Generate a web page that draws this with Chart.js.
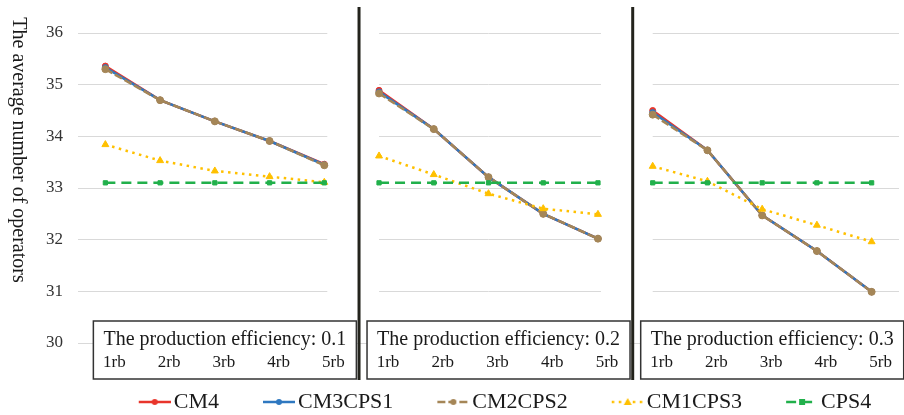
<!DOCTYPE html>
<html lang="en">
<head>
<meta charset="UTF-8">
<title>The average number of operators</title>
<script src="https://cdn.jsdelivr.net/npm/chart.js@4.4.1/dist/chart.umd.min.js"></script>
<style>
  html, body { margin: 0; padding: 0; background: #fff; }
</style>
</head>
<body>
<canvas id="chart" width="904" height="415"></canvas>
<script>
// values, 3 efficiency groups x 5 categories
const groups = ["0.1", "0.2", "0.3"];
const rbLabels = ["1rb", "2rb", "3rb", "4rb", "5rb"];
const cm4     = [35.36, 34.70, 34.29, 33.91, 33.46,  34.89, 34.14, 33.21, 32.50, 32.02,  34.50, 33.73, 32.47, 31.78, 30.99];
const cm3cps1 = [35.33, 34.70, 34.29, 33.91, 33.45,  34.86, 34.14, 33.21, 32.50, 32.02,  34.46, 33.73, 32.47, 31.78, 30.99];
const cm2cps2 = [35.30, 34.70, 34.29, 33.91, 33.44,  34.83, 34.14, 33.21, 32.50, 32.02,  34.42, 33.73, 32.47, 31.78, 30.99];
const cm1cps3 = [33.84, 33.53, 33.33, 33.22, 33.11,  33.62, 33.26, 32.89, 32.60, 32.49,  33.42, 33.13, 32.59, 32.28, 31.96];
const cps4    = [33.10, 33.10, 33.10, 33.10, 33.10,  33.10, 33.10, 33.10, 33.10, 33.10,  33.10, 33.10, 33.10, 33.10, 33.10];
const yTicks = [30, 31, 32, 33, 34, 35, 36];

const FONT = "'Liberation Serif', 'Times New Roman', serif";
const labels = [];
groups.forEach(() => rbLabels.forEach(l => labels.push(l)));
const per = rbLabels.length;

// do not join the last point of a group to the first of the next one
const breakGroups = { borderColor: c => (c.p0DataIndex % per === per - 1) ? 'rgba(0,0,0,0)' : undefined };

function series(label, data, color, dash, shape, radius, order) {
  return {
    label, data, order,
    borderColor: color, backgroundColor: color,
    borderWidth: 2.5, borderDash: dash,
    pointStyle: shape, pointRadius: radius, pointBorderWidth: 1,
    pointBorderColor: color, pointBackgroundColor: color,
    tension: 0, segment: breakGroups
  };
}

// later series sit on top, as in the original
const datasets = [
  series("CM4", cm4, "#e8352b", [], "circle", 3, 5),
  series("CM3CPS1", cm3cps1, "#2f78c0", [], "circle", 3, 4),
  series("CM2CPS2", cm2cps2, "#a58657", [8, 3], "circle", 3.5, 3),
  series("CM1CPS3", cm1cps3, "#ffc000", [2.5, 4.5], "triangle", 4, 2),
  series("CPS4", cps4, "#21b04b", [10, 6], "rect", 3, 1)
];

// legend samples: a short line with a marker, blank space on the left
const LEG_FONT = 22, LEG_W = 58;
function swatch(ds) {
  const w = LEG_W + LEG_FONT - 6;
  const c = document.createElement('canvas');
  c.width = w; c.height = 14;
  const g = c.getContext('2d');
  const x0 = w - 32, cy = 7, mx = x0 + 16;
  g.strokeStyle = ds.borderColor; g.lineWidth = 2.5;
  g.setLineDash(ds.borderDash);
  g.beginPath(); g.moveTo(x0, cy); g.lineTo(w, cy); g.stroke();
  g.setLineDash([]);
  g.fillStyle = ds.borderColor;
  g.beginPath();
  if (ds.pointStyle === 'rect') g.rect(mx - 3, cy - 3, 6, 6);
  else if (ds.pointStyle === 'triangle') { g.moveTo(mx, cy - 4); g.lineTo(mx + 4, cy + 3); g.lineTo(mx - 4, cy + 3); g.closePath(); }
  else g.arc(mx, cy, 3, 0, Math.PI * 2);
  g.fill();
  return c;
}
const swatches = datasets.map(swatch);

const panelDecor = {
  id: 'panelDecor',
  afterLayout(chart) {
    const lg = chart.legend;
    lg.left += 36; lg.right += 36;
    lg.top += 8; lg.bottom += 8;
  },
  beforeDatasetsDraw(chart) {
    const { ctx, scales: { x, y } } = chart;
    ctx.save();
    ctx.fillStyle = '#ffffff';
    for (let g = 1; g < groups.length; g++) {
      const a = x.getPixelForValue(g * per - 1) + 3;
      const b = x.getPixelForValue(g * per);
      ctx.fillRect(a, 0, b - a, y.getPixelForValue(30) - 4);
    }
    ctx.restore();
  },
  afterDatasetsDraw(chart) {
    const { ctx, scales: { x, y } } = chart;
    const base = y.getPixelForValue(30);
    ctx.save();
    // vertical separators between the groups
    ctx.strokeStyle = '#23231c';
    ctx.lineWidth = 3;
    for (let g = 1; g < groups.length; g++) {
      const sx = x.getPixelForValue(g * per) - 20;
      ctx.beginPath(); ctx.moveTo(sx, 7); ctx.lineTo(sx, 380); ctx.stroke();
    }
    // boxes holding the group title and the category labels
    groups.forEach((gname, g) => {
      const left = x.getPixelForValue(g * per) - 12;
      const bw = 263, top = base - 22, bh = 58;
      ctx.fillStyle = '#ffffff';
      ctx.fillRect(left, top, bw, bh);
      ctx.strokeStyle = '#333';
      ctx.lineWidth = 1.5;
      ctx.strokeRect(left, top, bw, bh);
      ctx.fillStyle = '#1a1a1a';
      ctx.font = "20px " + FONT;
      ctx.textAlign = 'center';
      ctx.textBaseline = 'middle';
      ctx.fillText("The production efficiency: " + gname, left + bw / 2, base - 3);
    });
    ctx.restore();
  },
  afterDraw(chart) {
    const { ctx } = chart;
    ctx.save();
    ctx.translate(18, 150);
    ctx.rotate(Math.PI / 2);
    ctx.fillStyle = '#1a1a1a';
    ctx.font = "20px " + FONT;
    ctx.textAlign = 'center';
    ctx.textBaseline = 'middle';
    ctx.fillText("The average number of operators", 0, 0);
    ctx.restore();
  }
};

new Chart(document.getElementById('chart'), {
  type: 'line',
  data: { labels, datasets },
  options: {
    responsive: false,
    animation: false,
    layout: { padding: { top: 33, right: 0, left: 0, bottom: 0 } },
    scales: {
      x: {
        offset: true,
        grid: { display: false, drawTicks: false },
        border: { display: false },
        ticks: {
          z: 1, padding: 9, labelOffset: 9, maxRotation: 0, autoSkip: false,
          color: '#1a1a1a', font: { family: FONT, size: 17 }
        },
        afterFit: s => { s.height = 30; }
      },
      y: {
        min: 30, max: 36,
        afterBuildTicks: s => { s.ticks = yTicks.map(v => ({ value: v })); },
        grid: { color: '#d9d9d9', lineWidth: 1, drawTicks: false },
        border: { display: false },
        ticks: { padding: 15, color: '#333', font: { family: FONT, size: 17 } },
        afterFit: s => { s.width = 78; }
      }
    },
    plugins: {
      legend: {
        position: 'bottom',
        labels: {
          usePointStyle: true,
          pointStyleWidth: LEG_W,
          padding: 10,
          color: '#1a1a1a',
          font: { family: FONT, size: LEG_FONT },
          generateLabels: chart => chart.data.datasets.map((ds, i) => ({
            text: ds.label, pointStyle: swatches[i], datasetIndex: i,
            fillStyle: ds.borderColor, strokeStyle: ds.borderColor,
            lineWidth: 0, hidden: false, fontColor: '#1a1a1a'
          }))
        }
      },
      tooltip: { enabled: false }
    }
  },
  plugins: [panelDecor]
});
</script>
</body>
</html>
